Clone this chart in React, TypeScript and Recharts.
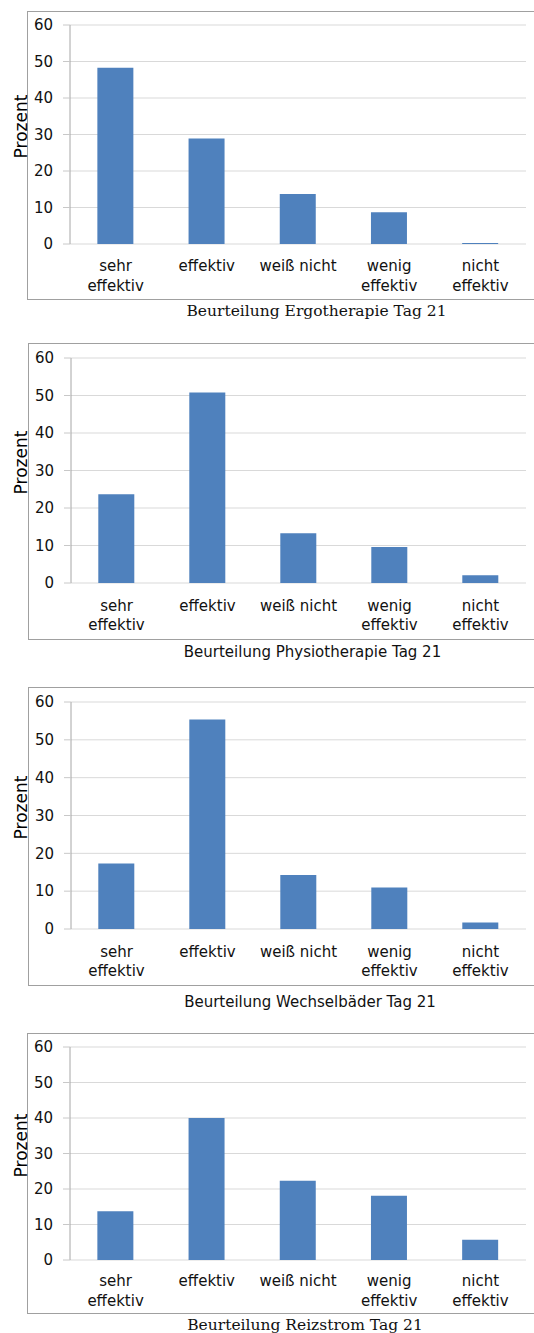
import React from 'react';
import { BarChart, Bar, XAxis, YAxis, CartesianGrid } from 'recharts';

const categories = ['sehr effektiv', 'effektiv', 'weiß nicht', 'wenig effektiv', 'nicht effektiv'];
const tickLines: string[][] = [['sehr', 'effektiv'], ['effektiv'], ['weiß nicht'], ['wenig', 'effektiv'], ['nicht', 'effektiv']];
const yTicks = [0, 10, 20, 30, 40, 50, 60];
const edgeTicks = [0, 1, 2, 3, 4, 5];

const ergoValues = [48.3, 28.9, 13.7, 8.7, 0.3];
const physioValues = [23.7, 50.8, 13.3, 9.6, 2.1];
const wechselValues = [17.3, 55.4, 14.3, 11.0, 1.7];
const reizValues = [13.7, 40.0, 22.3, 18.1, 5.7];

const titles = [
  'Beurteilung Ergotherapie Tag 21',
  'Beurteilung Physiotherapie Tag 21',
  'Beurteilung Wechselbäder Tag 21',
  'Beurteilung Reizstrom Tag 21',
];
const yLabel = 'Prozent';

const SANS = 'DejaVu Sans';
const SERIF = 'DejaVu Serif';
const BAR = '#4f81bd';

function makeData(values: number[]) {
  return categories.map((name, i) => ({ name, value: values[i] }));
}

function CatTick(props: any) {
  const { x, y, payload, lineDy } = props;
  const idx = categories.indexOf(payload.value);
  const lines = tickLines[idx] || [String(payload.value)];
  return (
    <text x={x} y={y} textAnchor="middle" fontFamily={SANS} fontSize={15} fill="#111">
      {lines.map((l, i) => (
        <tspan key={i} x={x} y={y + lineDy + i * 19.5}>
          {l}
        </tspan>
      ))}
    </text>
  );
}

type PanelProps = {
  values: number[];
  title: string;
  titleFont: string;
  titleSize: number;
  titleX: number;
  titleY: number;
  top: number;
  height: number;
  mt: number;
  yw: number;
  borderLeft: number;
  borderBottom: number;
  lineDy: number;
};

function Panel(p: PanelProps) {
  const data = makeData(p.values);
  return (
    <>
      <div
        style={{
          position: 'absolute',
          left: p.borderLeft,
          top: p.top,
          width: 560,
          height: p.borderBottom - p.top,
          border: '1px solid #a0a0a0',
          boxSizing: 'border-box',
        }}
      />
      <div style={{ position: 'absolute', left: 0, top: p.top }}>
        <BarChart
          width={534}
          height={p.height}
          data={data}
          margin={{ top: p.mt, right: 8, bottom: 0, left: 0 }}
          barCategoryGap="30%"
        >
          <CartesianGrid vertical={false} stroke="#d9d9d9" />
          <XAxis
            xAxisId="edges"
            type="number"
            domain={[0, 5]}
            ticks={edgeTicks}
            allowDataOverflow
            height={0}
            tick={false}
            tickSize={6}
            axisLine={{ stroke: '#a6a6a6' }}
            tickLine={{ stroke: '#a6a6a6' }}
          />
          <XAxis
            dataKey="name"
            interval={0}
            height={50}
            axisLine={false}
            tickLine={false}
            tickSize={0}
            tickMargin={0}
            tick={<CatTick lineDy={p.lineDy} />}
          />
          <YAxis
            width={p.yw}
            domain={[0, 60]}
            ticks={yTicks}
            interval={0}
            tickSize={7}
            tickMargin={10}
            axisLine={{ stroke: '#a6a6a6' }}
            tickLine={{ stroke: '#c8c8c8' }}
            tick={{ fontFamily: SANS, fontSize: 15, fill: '#111' }}
            label={{
              content: (lp: any) => {
                const vb = lp.viewBox || { x: 0, y: p.mt, height: p.height - p.mt - 50 };
                const cy = vb.y + vb.height / 2 - 8;
                return (
                  <text
                    x={27}
                    y={cy}
                    transform={`rotate(-90 27 ${cy})`}
                    textAnchor="middle"
                    fontFamily={SANS}
                    fontSize={17}
                    fill="#000"
                  >
                    {yLabel}
                  </text>
                );
              },
            }}
          />
          <Bar dataKey="value" fill={BAR} isAnimationActive={false} />
        </BarChart>
      </div>
      <div
        style={{
          position: 'absolute',
          left: p.titleX - 200,
          width: 400,
          top: p.titleY - 12,
          height: 24,
          lineHeight: '24px',
          textAlign: 'center',
          fontFamily: p.titleFont,
          fontSize: p.titleSize,
          color: '#111',
          whiteSpace: 'nowrap',
        }}
      >
        {p.title}
      </div>
    </>
  );
}

export default function App() {
  return (
    <div
      style={{
        position: 'absolute',
        left: 0,
        top: 0,
        width: 534,
        height: 1333,
        overflow: 'hidden',
        background: '#fff',
      }}
    >
      <Panel values={ergoValues} title={titles[0]} titleFont={SERIF} titleSize={15.5} titleX={316.5} titleY={311}
        top={11} height={283} mt={14} yw={70} borderLeft={27} borderBottom={300} lineDy={27} />
      <Panel values={physioValues} title={titles[1]} titleFont={SANS} titleSize={15} titleX={312.5} titleY={652}
        top={343} height={290} mt={15} yw={71} borderLeft={28} borderBottom={640} lineDy={27.5} />
      <Panel values={wechselValues} title={titles[2]} titleFont={SANS} titleSize={15} titleX={310} titleY={1002}
        top={687} height={292} mt={15} yw={71} borderLeft={28} borderBottom={986} lineDy={27.5} />
      <Panel values={reizValues} title={titles[3]} titleFont={SERIF} titleSize={15.5} titleX={305} titleY={1325}
        top={1033} height={277} mt={14} yw={70} borderLeft={27} borderBottom={1314} lineDy={26} />
    </div>
  );
}
